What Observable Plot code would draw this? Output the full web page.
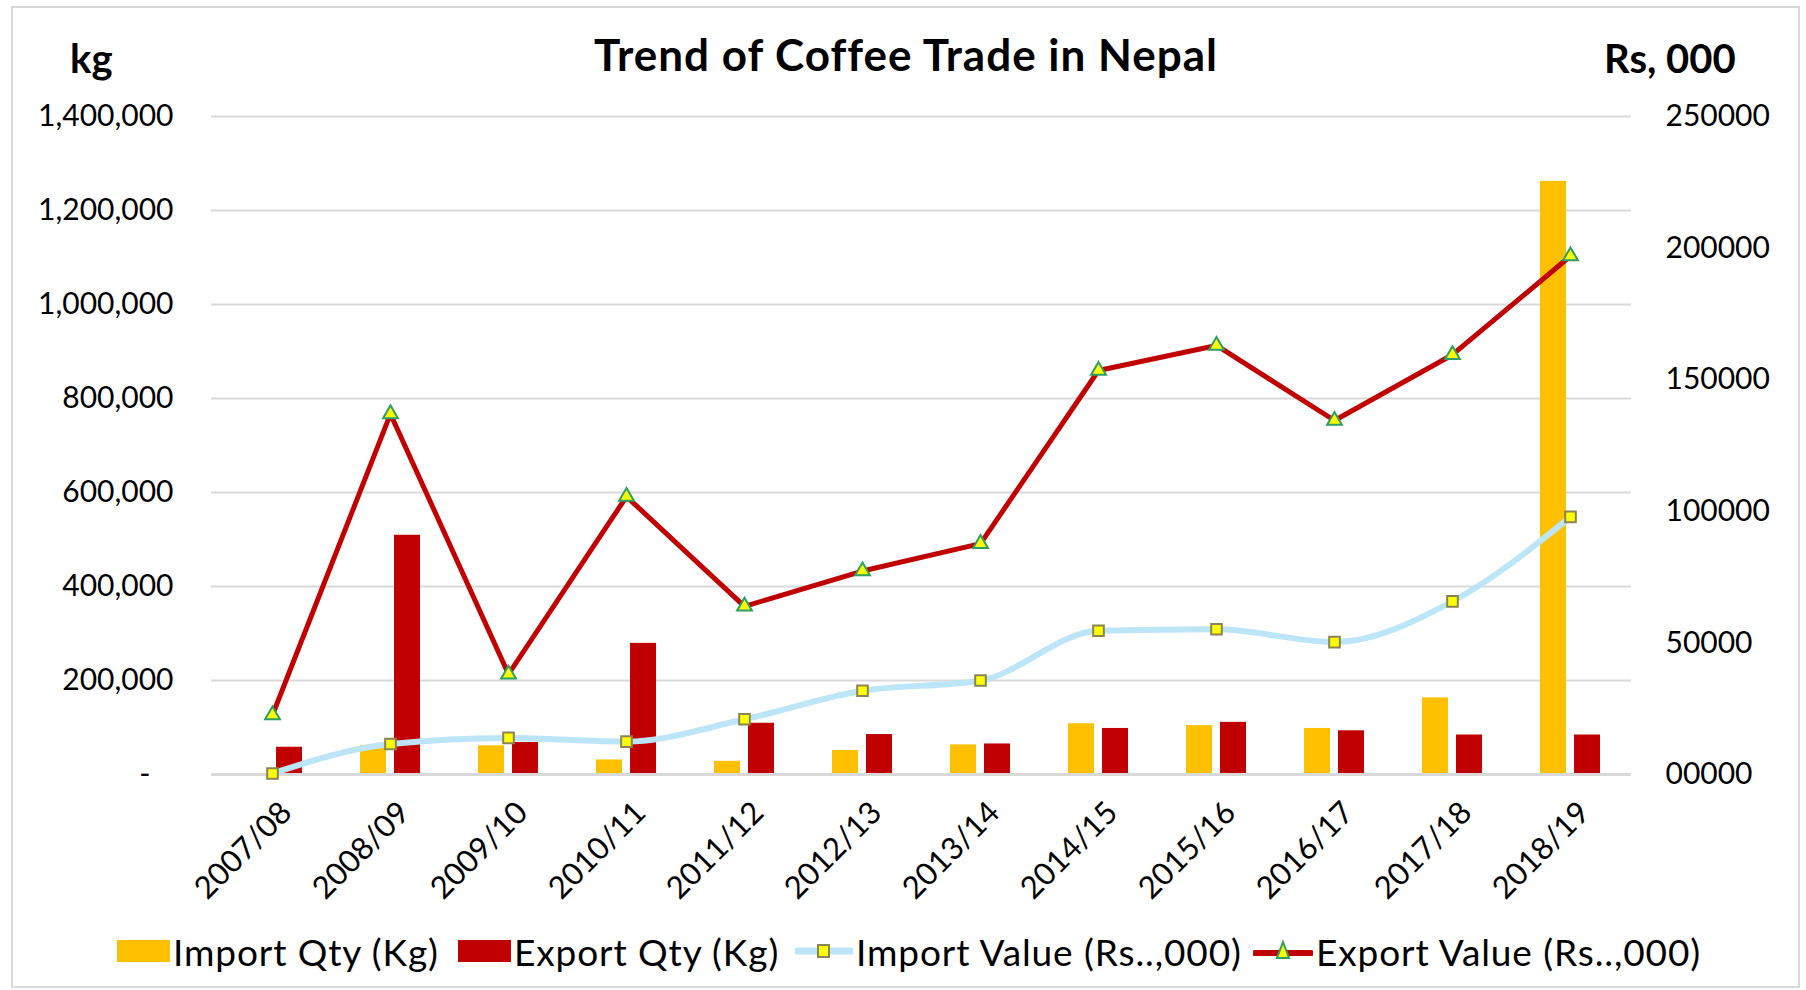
<!DOCTYPE html>
<html>
<head>
<meta charset="utf-8">
<script src="https://cdn.jsdelivr.net/npm/d3@7"></script>
<script src="https://cdn.jsdelivr.net/npm/@observablehq/plot@0.6"></script>
<style>
  body { margin: 0; background: #fff; font-family: Lato, "Open Sans", sans-serif; color: #000; }
  #wrap { position: relative; width: 1806px; height: 990px; overflow: hidden; background: #fff; }
  #frame { position: absolute; left: 11px; top: 6px; width: 1789px; height: 982px; border: 2px solid #d9d9d9; box-sizing: border-box; }
  #title { position: absolute; left: 6px; width: 1800px; top: 28px; text-align: center; font-weight: bold; font-size: 44px; letter-spacing: 1px; line-height: 52px; }
  .unit { position: absolute; top: 34px; font-weight: bold; font-size: 40px; line-height: 48px; }
  #chart { position: absolute; left: 0; top: 80px; }
  .leg { position: absolute; top: 929px; height: 44px; display: flex; align-items: center; font-size: 37px; letter-spacing: 0.9px; white-space: nowrap; }
  .leg svg { display: block; margin-right: 3px; }
</style>
</head>
<body>
<div id="wrap">
  <div id="frame"></div>
  <div id="title">Trend of Coffee Trade in Nepal</div>
  <div class="unit" style="left:70px">kg</div>
  <div class="unit" style="left:1604px">Rs, 000</div>
  <div id="chart"></div>
  <div id="legend"></div>
</div>
<script>
// ---- data ----
const categories = ["2007/08","2008/09","2009/10","2010/11","2011/12","2012/13","2013/14","2014/15","2015/16","2016/17","2017/18","2018/19"];
const importQty   = [2000, 62000, 61000, 31000, 28000, 51000, 63000, 108000, 104000, 98000, 163000, 1262000];
const exportQty   = [58000, 509000, 68000, 279000, 109000, 85000, 65000, 98000, 111000, 93000, 84000, 84000];
const importValue = [400, 11600, 13900, 12500, 21000, 31800, 35700, 54600, 55200, 50300, 65800, 97900];
const exportValue = [22600, 137000, 38100, 105600, 63900, 77300, 87700, 153500, 163000, 134500, 159500, 197000];
const leftTicks = [0, 200000, 400000, 600000, 800000, 1000000, 1200000, 1400000];
const rightTicks = [0, 50000, 100000, 150000, 200000, 250000];
const rightTickLabels = ["00000", "50000", "100000", "150000", "200000", "250000"];
const seriesNames = ["Import Qty (Kg)", "Export Qty (Kg)", "Import Value (Rs..,000)", "Export Value (Rs..,000)"];

const colors = { imp: "#FFC000", exp: "#C00000", impLine: "#BDE5F8", expLine: "#C00000", marker: "#FFFF00", sqStroke: "#8a8450", triStroke: "#2f9e63" };

// secondary axis factor (right 0..250000 maps onto left 0..1,400,000)
const K = leftTicks[leftTicks.length - 1] / rightTicks[rightTicks.length - 1];

const rows = categories.map((c, i) => ({
  cat: c, iq: importQty[i], eq: exportQty[i], iv: importValue[i] * K, ev: exportValue[i] * K
}));

const font = "Lato, 'Open Sans', sans-serif";

const chart = Plot.plot({
  width: 1806,
  height: 830,
  marginLeft: 211,
  marginRight: 175,
  marginTop: 36,
  marginBottom: 136,
  x: { type: "band", domain: categories, padding: 0, axis: null },
  y: { domain: [0, leftTicks[leftTicks.length - 1]], axis: null },
  style: { fontFamily: font, fontSize: "30px", color: "#000", background: "transparent", overflow: "visible" },
  marks: [
    Plot.ruleY(leftTicks.slice(1), { stroke: "#d9d9d9", strokeWidth: 2 }),
    Plot.barY(rows, { x: "cat", y: "iq", fill: colors.imp, dx: -17, insetLeft: 46, insetRight: 46 }),
    Plot.barY(rows, { x: "cat", y: "eq", fill: colors.exp, dx: 17, insetLeft: 46, insetRight: 46 }),
    Plot.ruleY([0], { stroke: "#d9d9d9", strokeWidth: 3 }),
    Plot.line(rows, { x: "cat", y: "iv", stroke: colors.impLine, strokeWidth: 6, curve: "monotone-x" }),
    Plot.dot(rows, { x: "cat", y: "iv", symbol: "square", r: 6, fill: colors.marker, stroke: colors.sqStroke, strokeWidth: 2 }),
    Plot.line(rows, { x: "cat", y: "ev", stroke: colors.expLine, strokeWidth: 5 }),
    Plot.dot(rows, { x: "cat", y: "ev", symbol: "triangle", r: 5.5, fill: colors.marker, stroke: colors.triStroke, strokeWidth: 2 }),
    Plot.axisY(leftTicks, {
      anchor: "left", tickSize: 0, tickPadding: 38, fontSize: 30,
      tickFormat: d => d === 0 ? "-\u00a0\u00a0\u00a0" : d3.format(",")(d)
    }),
    Plot.axisY(rightTicks.map(v => v * K), {
      anchor: "right", tickSize: 0, tickPadding: 34, fontSize: 30,
      tickFormat: (d, i) => rightTickLabels[i]
    }),
    Plot.text(categories, {
      x: d => d, frameAnchor: "bottom", dy: 33, dx: 14, rotate: -45,
      textAnchor: "end", lineAnchor: "middle", fontSize: 31, fill: "#000"
    })
  ]
});
document.getElementById("chart").appendChild(chart);

// ---- legend ----
const legendX = [117, 458, 795, 1253];
const swatches = [
  `<svg width="53" height="22"><rect x="0" y="0" width="53" height="22" fill="${colors.imp}"/></svg>`,
  `<svg width="53" height="22"><rect x="0" y="0" width="53" height="22" fill="${colors.exp}"/></svg>`,
  `<svg width="58" height="24"><line x1="2" y1="12" x2="56" y2="12" stroke="${colors.impLine}" stroke-width="7" stroke-linecap="round"/><rect x="23" y="6" width="11" height="12" fill="${colors.marker}" stroke="${colors.sqStroke}" stroke-width="2"/></svg>`,
  `<svg width="60" height="26"><line x1="2" y1="15" x2="58" y2="15" stroke="${colors.expLine}" stroke-width="6" stroke-linecap="round"/><path d="M30,4 L36,20 L24,20 Z" fill="${colors.marker}" stroke="${colors.triStroke}" stroke-width="2"/></svg>`
];
const legend = document.getElementById("legend");
seriesNames.forEach((name, i) => {
  const d = document.createElement("div");
  d.className = "leg";
  d.style.left = legendX[i] + "px";
  d.innerHTML = swatches[i] + `<span>${name}</span>`;
  legend.appendChild(d);
});
</script>
</body>
</html>
